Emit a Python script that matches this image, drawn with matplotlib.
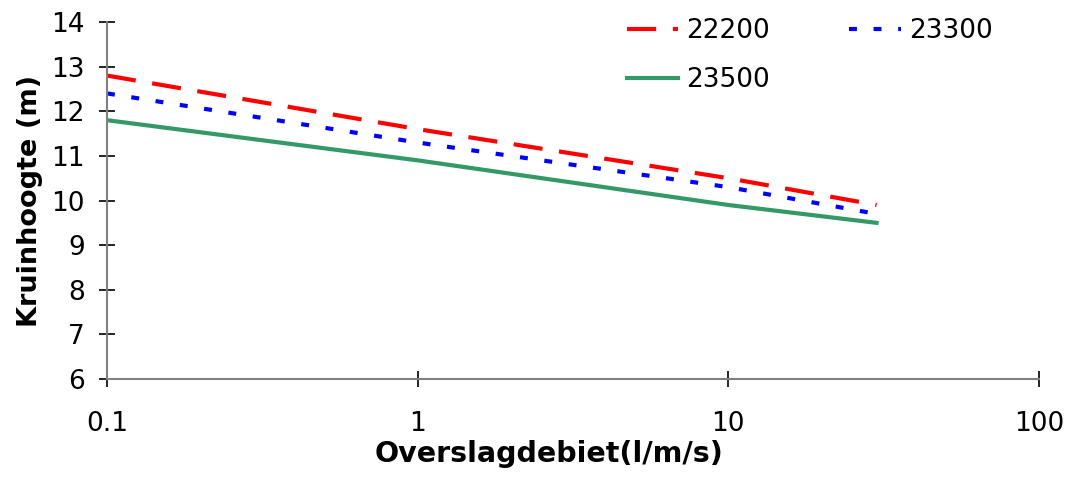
import matplotlib
matplotlib.use("Agg")
import matplotlib.pyplot as plt

# data
debiet = [0.1, 1, 10, 30]
h_22200 = [12.8, 11.6, 10.5, 9.9]
h_23300 = [12.4, 11.3, 10.3, 9.7]
h_23500 = [11.8, 10.9, 9.9, 9.5]

plt.rcParams["font.family"] = ["DejaVu Sans"]

fig = plt.figure(figsize=(10.74, 4.78), dpi=100)
ax = fig.add_axes([0.0996, 0.207, 0.8678, 0.747])

l1, = ax.plot(debiet, h_22200, color="#FF0000", lw=3, dashes=(7, 4), label="22200")
l2, = ax.plot(debiet, h_23300, color="#0000FF", lw=3, dashes=(1.9, 4), label="23300")
l3, = ax.plot(debiet, h_23500, color="#339966", lw=3, label="23500")

ax.set_xscale("log")
ax.set_xlim(0.1, 100)
ax.set_ylim(6, 14)
ax.set_xticks([0.1, 1, 10, 100])
ax.set_xticklabels(["0.1", "1", "10", "100"])
ax.minorticks_off()
ax.set_yticks(range(6, 15))

for s in ["top", "right"]:
    ax.spines[s].set_visible(False)
for s in ["left", "bottom"]:
    ax.spines[s].set_color("#808080")
    ax.spines[s].set_linewidth(1.5)

ax.tick_params(axis="x", direction="inout", length=12, width=1.2, labelsize=19, pad=17)
ax.tick_params(axis="y", direction="inout", length=12, width=1.2, labelsize=19, pad=10)

ax.set_xlabel("Overslagdebiet(l/m/s)", fontsize=20.5, fontweight="bold")
ax.xaxis.set_label_coords(0.474, -0.172)
ax.set_ylabel("Kruinhoogte (m)", fontsize=19.5, fontweight="bold", labelpad=6)

# column-major fill: 22200 / 23500 in first column, 23300 in second
ax.legend([l1, l3, l2], ["22200", "23500", "23300"], loc="upper left",
          bbox_to_anchor=(0.558, 1.01), ncol=2, frameon=False, borderpad=0,
          borderaxespad=0, fontsize=19, handlelength=1.95, handletextpad=0.3,
          columnspacing=3.0, labelspacing=0.85)

fig.savefig("out.png", dpi=100)
